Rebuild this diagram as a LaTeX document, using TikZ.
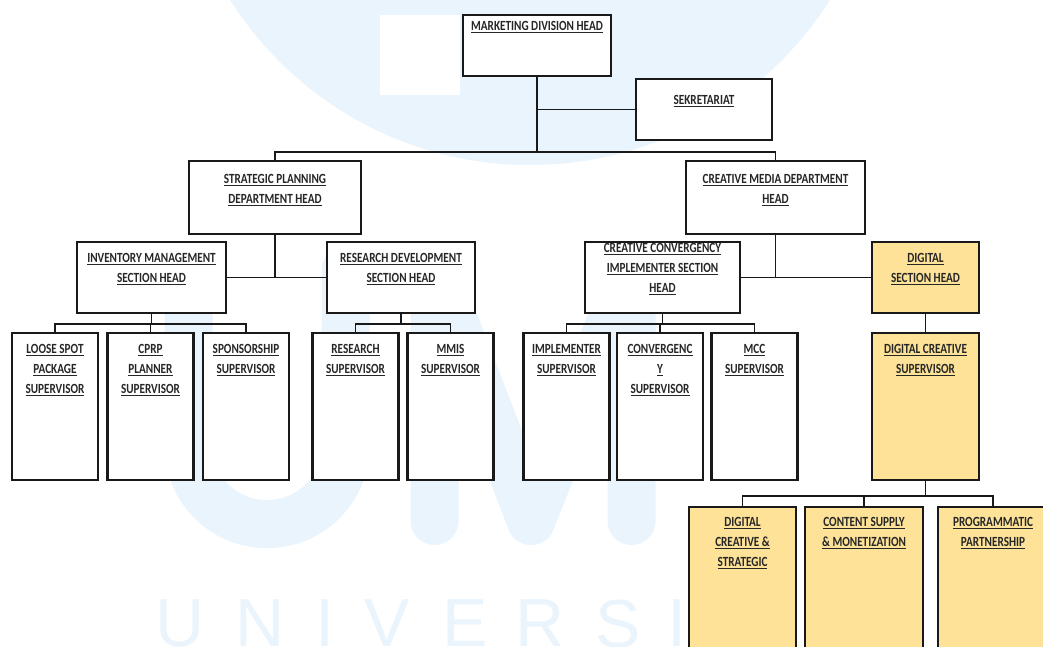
\documentclass[tikz,border=0pt]{standalone}
\usepackage{fontspec}
\setmainfont{Carlito}[FakeStretch=0.8]
\setsansfont{Liberation Sans}
\usepackage{tikz}
\usetikzlibrary{positioning}
\usepackage{xcolor}
\definecolor{gold}{RGB}{253,226,152}
\definecolor{wmblue}{RGB}{234,244,253}
\newcommand{\ul}[1]{\underline{#1}}

\begin{document}
\begin{tikzpicture}[x=1pt,y=-1pt,
        box/.style={draw=black!90,line width=2.2pt,fill=white,inner sep=0pt},
        gbox/.style={box,fill=gold},
        sup/.style={box,minimum width=86,minimum height=147},
        gsup/.style={gbox,minimum height=160},
        title/.style={align=center,inner sep=0pt,font=\bfseries\fontsize{14}{20}\selectfont,text=black!85},
        link/.style={line width=1.8pt,draw=black!90},
        wm/.style={inner sep=0pt,anchor=north,text=wmblue,font=\sffamily\fontsize{68}{68}\selectfont},
        wmline/.style={draw=wmblue,line width=48pt,line cap=round,line join=round}]
        \clip (0,0) rectangle (1043,646);
        \fill[white] (0,0) rectangle (1043,646);
        % watermark
        \fill[wmblue] (530,-190) circle[radius=355pt];
        \fill[white] (380,15) rectangle (460,95);
        \draw[wmline,rounded corners=78pt] (188.5,270) -- (188.5,524) -- (345.5,524) -- (345.5,270);
        \draw[wmline] (434.5,521) -- (434.5,270) -- (531,521) -- (631.5,270) -- (631.5,521);
        \foreach \x/\l in {180/U,260/N,325/I,387/V,465/E,540/R,618/S,677/I}
            \node[wm] (w\x) at (\x,600) {\l};

        % heads
        \node [box,minimum width=148,minimum height=61] (1) at (537,45.5) {};
        \node [box,minimum width=136,minimum height=61] (2) at (704,109.5) {};
        \node [box,minimum width=172,minimum height=73] (3) at (275,197.5) {};
        \node [box,minimum width=179,minimum height=73] (4) at (775.5,197.5) {};
        \node [box,minimum width=149,minimum height=71] (5) at (151.5,277.5) {};
        \node [box,minimum width=148,minimum height=71] (6) at (401,277.5) {};
        \node [box,minimum width=155,minimum height=71] (7) at (662.5,277.5) {};
        \node [gbox,minimum width=107,minimum height=71] (8) at (925.5,277.5) {};

        % supervisors
        \node [sup] (9) at (55,406.5) {};
        \node [sup] (10) at (150.5,406.5) {};
        \node [sup] (11) at (246,406.5) {};
        \node [sup] (12) at (355.5,406.5) {};
        \node [sup] (13) at (450.5,406.5) {};
        \node [sup] (14) at (566.5,406.5) {};
        \node [sup] (15) at (660,406.5) {};
        \node [sup] (16) at (754.5,406.5) {};
        \node [sup,gbox,minimum width=107] (17) at (925.5,406.5) {};
        \node [gsup,minimum width=107] (18) at (742.5,587) {};
        \node [gsup,minimum width=118] (19) at (864,587) {};
        \node [gsup,minimum width=110] (20) at (993,587) {};

        % titles
        \node [title,below=7.5pt of 1.north] (1t) {\ul{MARKETING DIVISION HEAD}};
        \node [title,below=17.5pt of 2.north] (2t) {\ul{SEKRETARIAT}};
        \node [title,below=14.5pt of 3.north] (3t) {\ul{STRATEGIC PLANNING}\\\ul{DEPARTMENT HEAD}};
        \node [title,below=14.5pt of 4.north] (4t) {\ul{CREATIVE MEDIA DEPARTMENT}\\\ul{HEAD}};
        \node [title,below=12.5pt of 5.north] (5t) {\ul{INVENTORY MANAGEMENT}\\\ul{SECTION HEAD}};
        \node [title,below=12.5pt of 6.north] (6t) {\ul{RESEARCH DEVELOPMENT}\\\ul{SECTION HEAD}};
        \node [title,below=2.5pt of 7.north] (7t) {\ul{CREATIVE CONVERGENCY}\\\ul{IMPLEMENTER SECTION}\\\ul{HEAD}};
        \node [title,below=12.5pt of 8.north] (8t) {\ul{DIGITAL}\\\ul{SECTION HEAD}};
        \node [title,below=12.5pt of 9.north] (9t) {\ul{LOOSE SPOT}\\\ul{PACKAGE}\\\ul{SUPERVISOR}};
        \node [title,below=12.5pt of 10.north] (10t) {\ul{CPRP}\\\ul{PLANNER}\\\ul{SUPERVISOR}};
        \node [title,below=12.5pt of 11.north] (11t) {\ul{SPONSORSHIP}\\\ul{SUPERVISOR}};
        \node [title,below=12.5pt of 12.north] (12t) {\ul{RESEARCH}\\\ul{SUPERVISOR}};
        \node [title,below=12.5pt of 13.north] (13t) {\ul{MMIS}\\\ul{SUPERVISOR}};
        \node [title,below=12.5pt of 14.north] (14t) {\ul{IMPLEMENTER}\\\ul{SUPERVISOR}};
        \node [title,below=12.5pt of 15.north] (15t) {\ul{CONVERGENC}\\\ul{Y}\\\ul{SUPERVISOR}};
        \node [title,below=12.5pt of 16.north] (16t) {\ul{MCC}\\\ul{SUPERVISOR}};
        \node [title,below=12.5pt of 17.north] (17t) {\ul{DIGITAL CREATIVE}\\\ul{SUPERVISOR}};
        \node [title,below=11.5pt of 18.north] (18t) {\ul{DIGITAL}\\\ul{CREATIVE \&}\\\ul{STRATEGIC}};
        \node [title,below=11.5pt of 19.north] (19t) {\ul{CONTENT SUPPLY}\\\ul{\& MONETIZATION}};
        \node [title,below=11.5pt of 20.north] (20t) {\ul{PROGRAMMATIC}\\\ul{PARTNERSHIP}};

        % links
        \coordinate (b0) at (537,152);
        \draw [link] (1) -- (b0);
        \draw [link] (2.west) -- (2.west -| 1.south);
        \draw [link] (b0) -| (3);
        \draw [link] (b0) -| (4);
        \draw [link] (5) -- (6);
        \draw [link] (3) -- (3 |- 5.east);
        \draw [link] (7) -- (8);
        \draw [link] (4) -- (4 |- 7.east);
        \draw [link] (5.south) -- ++(0,10) coordinate (b1);
        \foreach \s in {9,10,11}
            \draw [link] (b1) -| (\s);
        \draw [link] (6.south) -- ++(0,10) coordinate (b2);
        \foreach \s in {12,13}
            \draw [link] (b2) -| (\s);
        \draw [link] (7.south) -- ++(0,10) coordinate (b3);
        \foreach \s in {14,15,16}
            \draw [link] (b3) -| (\s);
        \draw [link] (8) -- (17);
        \draw [link] (17.south) -- ++(0,15) coordinate (b4);
        \foreach \s in {18,19,20}
            \draw [link] (b4) -| (\s);
    \end{tikzpicture}
\end{document}
